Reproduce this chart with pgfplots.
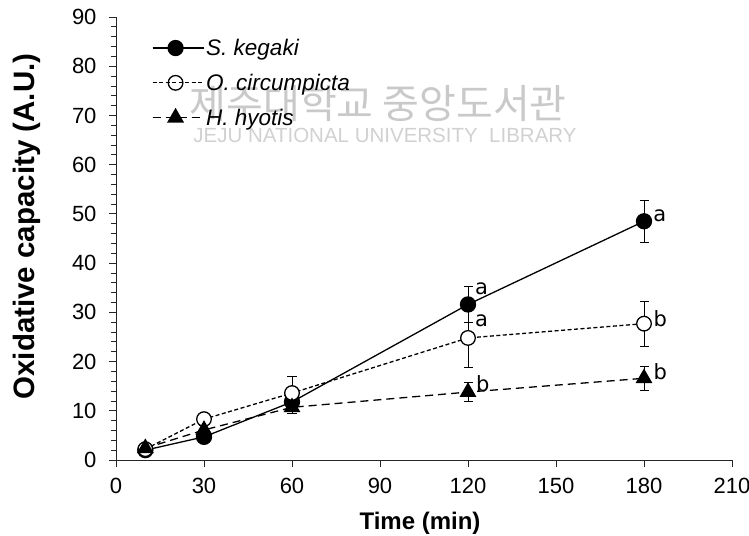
\documentclass[border=0pt]{standalone}
\usepackage{fontspec}
\setmainfont{Liberation Sans}
\newfontfamily\krfont{Noto Sans CJK KR}
\newfontfamily\dvfont{DejaVu Sans}
\usepackage{pgfplots}
\pgfplotsset{compat=1.18}
\begin{document}
\begin{tikzpicture}
\begin{axis}[
  name=ax, scale only axis, width=616bp, height=443bp,
  xmin=0, xmax=210, ymin=0, ymax=90,
  axis lines=left, axis line style={-, line width=0.9bp, black!85},
  xtick={0,30,...,210}, ytick={0,10,...,90}, minor y tick num=4,
  tick align=outside, major tick length=7bp, minor tick length=5bp,
  tick style={black!85, line width=0.8bp},
  /pgf/number format/assume math mode=true,
  ticklabel style={font=\fontsize{22bp}{26bp}\selectfont},
  xticklabel style={yshift=-8bp},
  yticklabel style={xshift=-9bp},
  xlabel={Time (min)}, ylabel={Oxidative capacity (A.U.)},
  every axis y label/.style={at={(axis description cs:-0.1445,0.527)}, rotate=90, anchor=center,
    font=\fontsize{29.5bp}{32bp}\selectfont\bfseries},
  every axis x label/.style={at={(axis description cs:0.4935,-0.1564)}, anchor=base,
    font=\fontsize{24bp}{28bp}\selectfont\bfseries},
  legend style={at={(axis description cs:0.058,0.955)}, anchor=north west, draw=none, fill=none,
    inner sep=0pt, row sep=13bp,
    nodes={inner sep=2bp, font=\fontsize{22.5bp}{26bp}\selectfont\itshape}},
  legend cell align=left,
  legend image code/.code={\draw[mark repeat=2,mark phase=2,#1] plot coordinates {(0bp,0bp) (23bp,0bp) (46bp,0bp)};
    \path (0bp,0bp) -- (51bp,0bp);},
  error bars/error bar style={solid, line width=0.8bp, black},
  error bars/error mark options={solid, rotate=90, mark size=4.5bp, line width=0.8bp, black},
]
\node[text=black!21, font=\krfont\fontsize{40bp}{44bp}\selectfont, anchor=west] at (rel axis cs:0.114,0.805) {제주대학교 중앙도서관};
\node[text=black!18, font=\fontsize{20.5bp}{24bp}\selectfont, anchor=west] at (rel axis cs:0.12,0.732) {JEJU NATIONAL UNIVERSITY\ \ LIBRARY};

\addplot[black, line width=1.3bp, mark=*, mark size=7.5bp, mark options={solid, fill=black},
  error bars/.cd, y dir=both, y explicit]
  table[x=x, y=y, y error=e] {
x y e
10 2.0 0.5
30 4.7 1.0
60 11.8 1.0
120 31.6 3.6
180 48.5 4.3
};
\addlegendentry{S. kegaki}

\addplot[black, line width=1.3bp, dash pattern=on 4bp off 2.5bp, mark=*, mark size=7.3bp, mark options={solid, fill=white},
  error bars/.cd, y dir=both, y explicit]
  table[x=x, y=y, y error=e] {
x y e
10 2.2 0.5
30 8.3 1.0
60 13.6 3.3
120 24.8 6.0
180 27.7 4.6
};
\addlegendentry{O. circumpicta}

\addplot[black, line width=1.3bp, dash pattern=on 8bp off 5bp, mark=triangle*, mark size=8.5bp, mark options={solid, fill=black},
  error bars/.cd, y dir=both, y explicit]
  table[x=x, y=y, y error=e] {
x y e
10 2.4 0.5
30 6.1 1.0
60 10.7 1.2
120 13.8 1.9
180 16.6 2.4
};
\addlegendentry{H. hyotis}

\node[font=\dvfont\fontsize{21bp}{24bp}\selectfont, anchor=base west, inner sep=0pt] at (axis cs:183.1,48.4) {a};
\node[font=\dvfont\fontsize{21bp}{24bp}\selectfont, anchor=base west, inner sep=0pt] at (axis cs:122.4,33.7) {a};
\node[font=\dvfont\fontsize{21bp}{24bp}\selectfont, anchor=base west, inner sep=0pt] at (axis cs:122.4,27.1) {a};
\node[font=\dvfont\fontsize{21bp}{24bp}\selectfont, anchor=base west, inner sep=0pt] at (axis cs:183.2,27.2) {b};
\node[font=\dvfont\fontsize{21bp}{24bp}\selectfont, anchor=base west, inner sep=0pt] at (axis cs:122.7,14.0) {b};
\node[font=\dvfont\fontsize{21bp}{24bp}\selectfont, anchor=base west, inner sep=0pt] at (axis cs:183.2,16.3) {b};
\end{axis}
\pgfresetboundingbox
\useasboundingbox ([xshift=-116bp,yshift=-76bp]ax.south west) rectangle ([xshift=17bp,yshift=17bp]ax.north east);
\end{tikzpicture}
\end{document}
